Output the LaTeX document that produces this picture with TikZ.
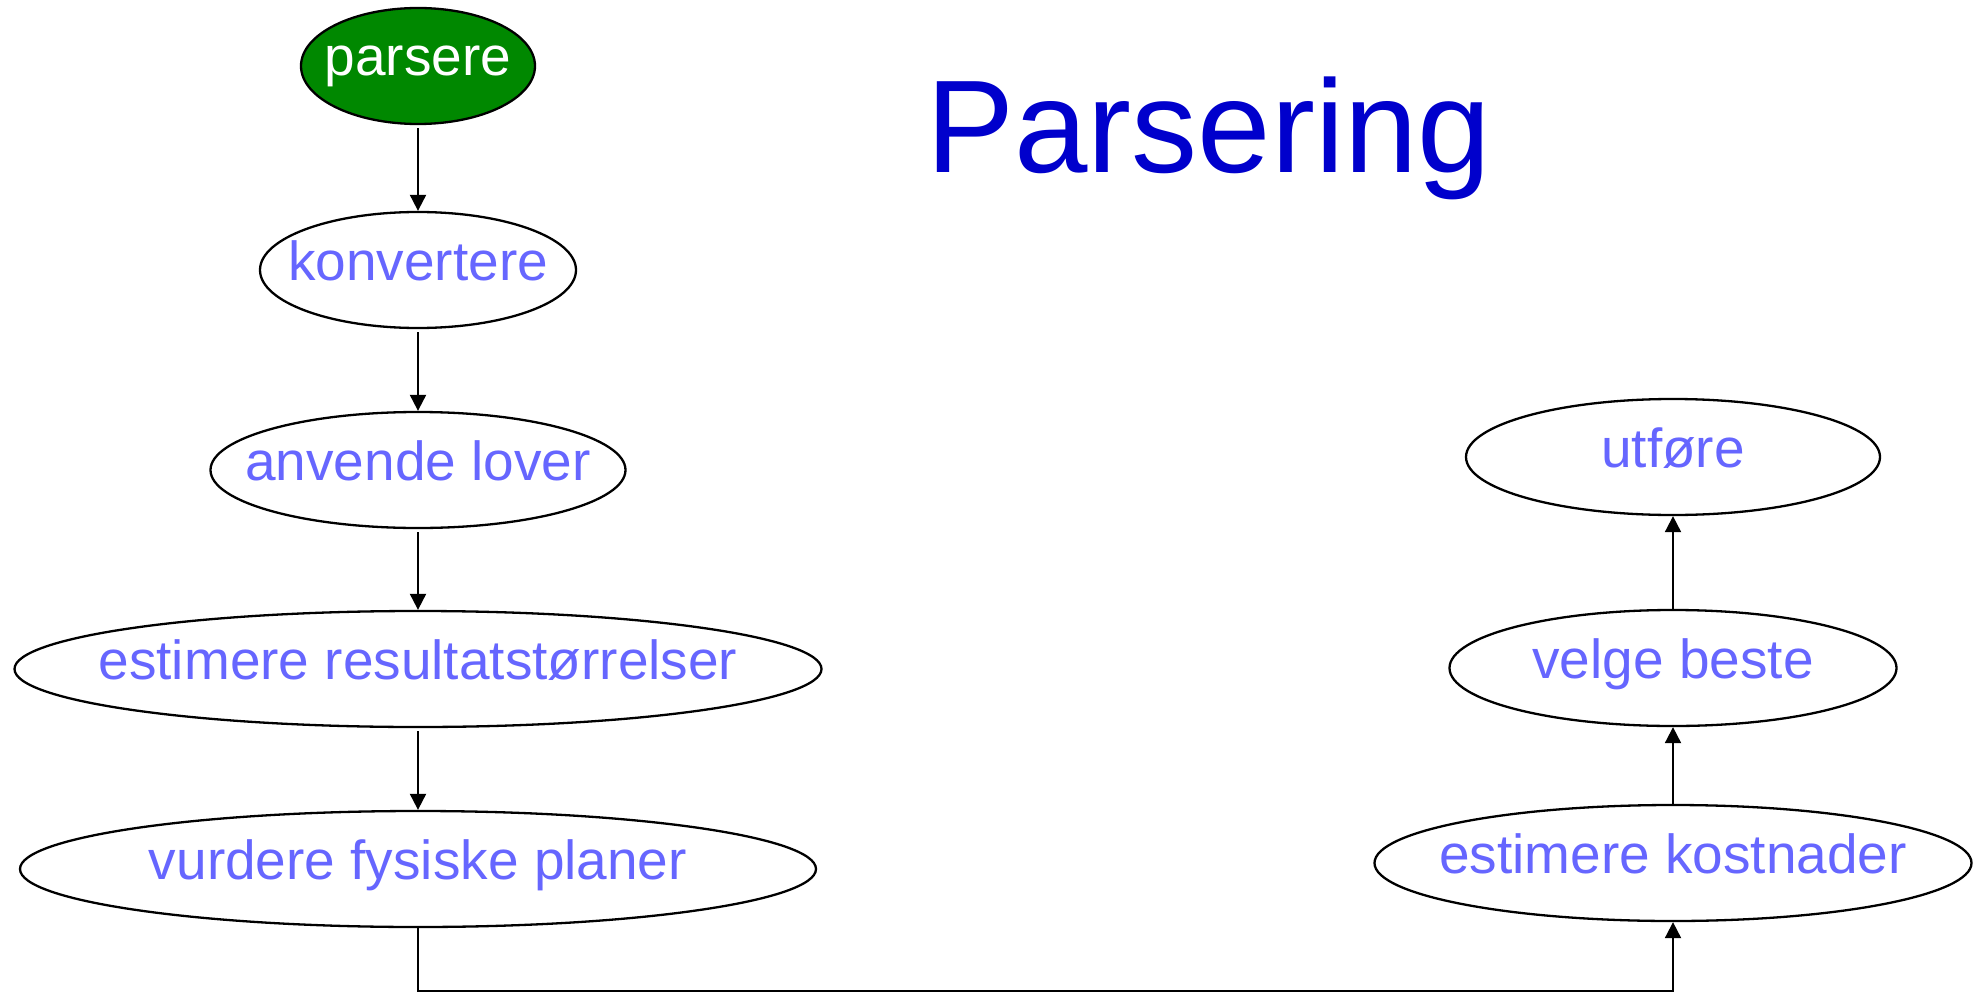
\documentclass[tikz,border=0pt]{standalone}
\usepackage{fontspec}
\setmainfont{Liberation Sans}
\usetikzlibrary{shapes.geometric,arrows.meta}
\definecolor{nodegreen}{RGB}{0,136,0}
\definecolor{nodetext}{RGB}{102,102,255}
\definecolor{titleblue}{RGB}{0,0,204}
\begin{document}
\begin{tikzpicture}[x=1pt,y=-1pt,
  oval/.style={ellipse, draw=black, line width=2.3pt, inner sep=0pt, minimum height=116pt},
  ovtext/.style={text=nodetext, font=\fontsize{55}{66}\selectfont, inner sep=0pt, text height=40pt, text depth=20pt},
  ovwhite/.style={text=white, font=\fontsize{55}{66}\selectfont, inner sep=0pt, text height=40pt, text depth=20pt},
  conn/.style={line width=2pt, -{Triangle[length=16pt,width=16pt]}}
]
\fill[white] (0,0) rectangle (1980,995);
\useasboundingbox (0,0) rectangle (1980,995);

\node[oval, fill=nodegreen, minimum width=234pt, label={[ovwhite]center:parsere}] (p) at (418,66) {};
\node[oval, minimum width=316pt, label={[ovtext]center:konvertere}] (k) at (418,270) {};
\node[oval, minimum width=415pt, label={[ovtext]center:anvende lover}] (a) at (418,470) {};
\node[oval, minimum width=807pt, label={[ovtext]center:estimere resultatstørrelser}] (r) at (418,669) {};
\node[oval, minimum width=796pt, label={[ovtext]center:vurdere fysiske planer}] (v) at (418,869) {};

\node[oval, minimum width=414pt, label={[ovtext]center:utføre}] (u) at (1673,457) {};
\node[oval, minimum width=447pt, label={[ovtext]center:velge beste}] (b) at (1673,668) {};
\node[oval, minimum width=597pt, label={[ovtext]center:estimere kostnader}] (c) at (1673,863) {};

\node[text=titleblue, font=\fontsize{132}{150}\selectfont, inner sep=0pt, anchor=base] (title) at (1209,173) {Parsering};

\coordinate (low) at (0,991);

\draw[conn, shorten <=3pt] (p.south) -- (k.north);
\draw[conn, shorten <=3pt] (k.south) -- (a.north);
\draw[conn, shorten <=3pt] (a.south) -- (r.north);
\draw[conn, shorten <=3pt] (r.south) -- (v.north);
\draw[conn] (v.south) -- (v.south |- low) -| (c.south);
\draw[conn] (c.north) -- (b.south);
\draw[conn] (b.north) -- (u.south);
\end{tikzpicture}
\end{document}
